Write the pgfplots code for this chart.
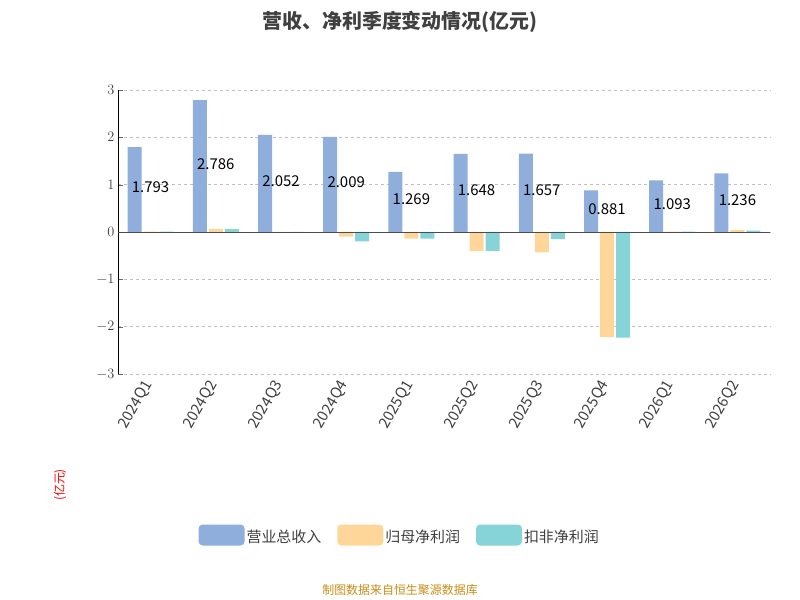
\documentclass[border=0pt]{standalone}
\usepackage{pgfplots}
\pgfplotsset{compat=1.18}
\usepackage{fontspec}
\setmainfont{Noto Sans CJK SC}
\definecolor{cA}{HTML}{8FAEDC}
\definecolor{cB}{HTML}{FFD699}
\definecolor{cC}{HTML}{86D4D8}
\begin{document}
\begin{tikzpicture}[x=1bp,y=1bp]
\path[use as bounding box] (0,0) rectangle (800,600);
\node[font=\fontsize{20}{22}\selectfont\bfseries,text=black!75] at (400,578) {营收、净利季度变动情况(亿元)};
\node[font=\fontsize{12}{14}\selectfont,text=red,rotate=90] at (60,115) {(亿元)};
\node[font=\fontsize{12}{14}\selectfont,text={rgb,255:red,200;green,140;blue,20}] at (400,10) {制图数据来自恒生聚源数据库};
\begin{axis}[at={(118bp,226bp)},anchor=south west,
 scale only axis,width=652bp,height=284bp,
 ymin=-3,ymax=3,xmin=-0.5,xmax=9.5,
 ytick={-3,-2,-1,0,1,2,3},
 xtick={0,...,9},
 xticklabels={2024Q1,2024Q2,2024Q3,2024Q4,2025Q1,2025Q2,2025Q3,2025Q4,2026Q1,2026Q2},
 xticklabel style={rotate=60,anchor=east,font=\fontsize{15}{17}\selectfont,text=black!75},
 yticklabel style={font=\fontsize{15}{17}\selectfont,text=black!75},
 ymajorgrids, grid style={dashed,gray!50,line width=0.8pt},
 axis x line*=bottom, axis y line*=left,
 x axis line style={draw=none},
 tick style={black!60}, major tick length=5bp,
 xtick style={draw=none},
 ybar, bar width=14bp,
 legend style={at={(0.432,-0.567)},anchor=center,draw=none,legend columns=3,
   font=\fontsize{15}{17}\selectfont,text=black!75,
   /tikz/every even column/.append style={column sep=14bp}},
 legend image code/.code={\fill[#1,rounded corners=4bp] (0bp,-9bp) rectangle (46bp,12bp);},
 clip=false]
\addplot[fill=cA,draw=none] coordinates {(0,1.793)(1,2.786)(2,2.052)(3,2.009)(4,1.269)(5,1.648)(6,1.657)(7,0.881)(8,1.093)(9,1.236)};
\addplot[fill=cB,draw=none] coordinates {(0,0.01)(1,0.06)(2,-0.02)(3,-0.10)(4,-0.14)(5,-0.40)(6,-0.43)(7,-2.22)(8,0.01)(9,0.04)};
\addplot[fill=cC,draw=none] coordinates {(0,0.01)(1,0.06)(2,-0.02)(3,-0.20)(4,-0.14)(5,-0.40)(6,-0.15)(7,-2.23)(8,0.01)(9,0.03)};
\legend{营业总收入,归母净利润,扣非净利润}
\draw[black!70] (axis cs:-0.5,0) -- (axis cs:9.5,0);
\node[font=\fontsize{15}{17}\selectfont] at (axis cs:0,0.947) {1.793};
\node[font=\fontsize{15}{17}\selectfont] at (axis cs:1,1.443) {2.786};
\node[font=\fontsize{15}{17}\selectfont] at (axis cs:2,1.076) {2.052};
\node[font=\fontsize{15}{17}\selectfont] at (axis cs:3,1.055) {2.009};
\node[font=\fontsize{15}{17}\selectfont] at (axis cs:4,0.685) {1.269};
\node[font=\fontsize{15}{17}\selectfont] at (axis cs:5,0.874) {1.648};
\node[font=\fontsize{15}{17}\selectfont] at (axis cs:6,0.879) {1.657};
\node[font=\fontsize{15}{17}\selectfont] at (axis cs:7,0.491) {0.881};
\node[font=\fontsize{15}{17}\selectfont] at (axis cs:8,0.597) {1.093};
\node[font=\fontsize{15}{17}\selectfont] at (axis cs:9,0.668) {1.236};
\end{axis}
\end{tikzpicture}
\end{document}
